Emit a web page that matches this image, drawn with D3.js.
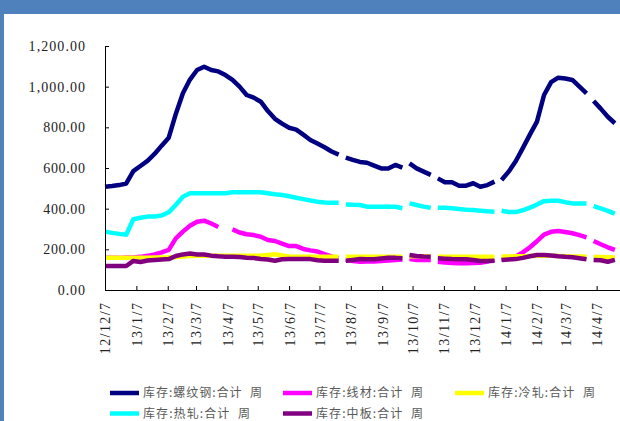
<!DOCTYPE html>
<html>
<head>
<meta charset="utf-8">
<script src="https://cdn.jsdelivr.net/npm/d3@7"></script>
<style>
  html, body { margin: 0; padding: 0; background: #fff; }
  svg { display: block; }
  .tick text { font-family: "Liberation Serif", serif; font-size: 14px; fill: #222; }
  .legend text { font-family: "Noto Sans CJK SC", sans-serif; font-size: 12px; fill: #595959; white-space: pre; }
</style>
</head>
<body>
<svg id="chart" width="620" height="421"></svg>
<script>
// weekly dates; the extra mid-week dates are empty rows in the source (shown as gaps)
const dates = [
  "2012-12-07","2012-12-14","2012-12-21","2012-12-28",
  "2013-01-04","2013-01-11","2013-01-18","2013-01-25",
  "2013-02-01","2013-02-08","2013-02-15","2013-02-22",
  "2013-03-01","2013-03-08","2013-03-15","2013-03-22","2013-03-29",
  "2013-04-05","2013-04-12","2013-04-19","2013-04-26",
  "2013-05-03","2013-05-10","2013-05-17","2013-05-24","2013-05-31",
  "2013-06-07","2013-06-14","2013-06-21","2013-06-28",
  "2013-07-05","2013-07-12","2013-07-19","2013-07-26","2013-07-29",
  "2013-08-02","2013-08-09","2013-08-16","2013-08-23","2013-08-30",
  "2013-09-06","2013-09-13","2013-09-20","2013-09-27","2013-09-30",
  "2013-10-04","2013-10-11","2013-10-18","2013-10-25","2013-10-29",
  "2013-11-01","2013-11-08","2013-11-15","2013-11-22","2013-11-29",
  "2013-12-06","2013-12-13","2013-12-20","2013-12-27","2013-12-31",
  "2014-01-03","2014-01-10","2014-01-17","2014-01-24","2014-01-31",
  "2014-02-07","2014-02-14","2014-02-21","2014-02-28",
  "2014-03-07","2014-03-14","2014-03-21","2014-03-28","2014-03-31",
  "2014-04-04","2014-04-11","2014-04-18","2014-04-25"
];

const rebar = [
  508,511,516,524,
  585,610,635,669,
  710,749,866,968,
  1035,1082,1098,1082,1075,
  1057,1033,1000,959,
  946,926,880,842,818,
  798,789,764,738,
  720,702,681,666,null,
  651,640,630,626,612,
  598,598,615,602,null,
  623,598,582,566,null,
  549,530,530,513,513,
  525,508,516,533,null,
  541,582,633,698,764,
  828,959,1022,1044,
  1040,1033,1000,967,null,
  930,892,852,820
];

const wireRod = [
  158,158,158,160,
  160,163,168,175,
  185,197,254,287,
  316,336,341,327,310,
  null,298,283,274,
  270,262,246,241,228,
  216,216,202,195,
  189,176,165,155,null,
  148,142,139,140,140,
  143,145,148,150,null,
  152,148,148,148,null,
  139,135,133,131,131,
  133,134,140,148,null,
  148,155,165,185,210,
  240,272,286,290,
  285,279,270,259,null,
  241,225,210,197
];

const coldRolled = [
  159,159,159,159,
  159,159,159,160,
  160,160,162,165,
  167,168,168,168,168,
  168,168,168,168,
  168,168,172,176,170,
  165,164,164,164,
  164,164,164,164,null,
  164,164,164,164,164,
  164,164,164,164,null,
  166,166,166,165,null,
  164,164,164,164,164,
  164,164,164,164,null,
  165,165,166,166,167,
  168,168,168,167,
  166,165,165,164,null,
  162,162,161,160
];

const hotRolled = [
  287,281,276,272,
  348,355,361,362,
  366,382,418,459,
  476,476,476,476,476,
  476,481,481,481,
  481,481,476,471,467,
  461,454,447,440,
  434,430,429,429,null,
  421,419,418,410,410,
  410,410,410,402,null,
  426,418,410,405,null,
  405,404,402,398,395,
  393,390,387,385,null,
  390,384,383,392,405,
  420,437,439,439,
  432,426,425,425,null,
  412,401,389,376
];

const plate = [
  118,118,118,118,
  143,138,145,148,
  150,152,167,175,
  180,175,175,169,166,
  164,164,162,159,
  157,153,150,144,151,
  152,152,152,152,
  146,144,144,144,null,
  144,148,152,151,151,
  155,159,158,156,null,
  172,167,165,164,null,
  156,154,152,151,151,
  147,143,143,144,null,
  148,150,152,158,166,
  172,172,170,166,
  163,161,156,151,null,
  148,146,139,148
];

const seriesNames = ["库存:螺纹钢:合计  周", "库存:线材:合计  周", "库存:冷轧:合计  周", "库存:热轧:合计  周", "库存:中板:合计  周"];
const seriesColors = ["#000080", "#FF00FF", "#FFFF00", "#00FFFF", "#800080"];
const seriesValues = [rebar, wireRod, coldRolled, hotRolled, plate];

const xTickDates = [
  "2012-12-07","2013-01-07","2013-02-07","2013-03-07","2013-04-07","2013-05-07",
  "2013-06-07","2013-07-07","2013-08-07","2013-09-07","2013-10-07","2013-11-07",
  "2013-12-07","2014-01-07","2014-02-07","2014-03-07","2014-04-07"
];
const yTicks = [0, 200, 400, 600, 800, 1000, 1200];

const parse = d3.timeParse("%Y-%m-%d");
const svg = d3.select("#chart");

// frame: blue header strip and left edge
svg.append("rect").attr("x", 0).attr("y", 0).attr("width", 620).attr("height", 14).attr("fill", "#4F81BD");
svg.append("rect").attr("x", 0).attr("y", 0).attr("width", 4).attr("height", 421).attr("fill", "#4F81BD");

const x = d3.scaleTime()
  .domain([parse("2012-12-07"), parse("2014-05-07")])
  .range([105, 627]);
const y = d3.scaleLinear().domain([0, 1200]).range([290, 46]);

// half-width / full-width advance, like the SimSun layout of the original
const advance = (s, half) => Array.from(s).reduce((w, c) => w + (c.charCodeAt(0) > 255 ? 2 * half : half), 0);

// series
const line = d3.line()
  .defined(d => d.v != null)
  .x(d => x(d.t))
  .y(d => y(d.v));

const gLines = svg.append("g");
seriesValues.forEach((vals, i) => {
  const pts = dates.map((s, j) => ({ t: parse(s), v: vals[j] }));
  gLines.append("path")
    .datum(pts)
    .attr("fill", "none")
    .attr("stroke", seriesColors[i])
    .attr("stroke-width", 4.5)
    .attr("stroke-linejoin", "round")
    .attr("stroke-linecap", "butt")
    .attr("d", line);
});

// axes
const yAxis = d3.axisLeft(y)
  .tickValues(yTicks)
  .tickFormat(d3.format(",.2f"))
  .tickSizeInner(-4).tickSizeOuter(0)
  .tickPadding(20);
svg.append("g").attr("transform", "translate(105,0)").call(yAxis)
  .call(g => g.selectAll(".tick text")
    .attr("textLength", function () { return advance(this.textContent, 7.3) - 2; })
    .attr("lengthAdjust", "spacing"));

const xAxis = d3.axisBottom(x)
  .tickValues(xTickDates.map(parse))
  .tickFormat(d3.timeFormat("%y/%-m/%-d"))
  .tickSizeInner(-4).tickSizeOuter(0);
svg.append("g").attr("transform", "translate(0,290)").call(xAxis)
  .call(g => g.selectAll(".tick text")
    .attr("transform", "rotate(-90)")
    .attr("text-anchor", "end")
    .attr("textLength", function () { return advance(this.textContent, 7.6) - 2; })
    .attr("lengthAdjust", "spacing")
    .attr("x", -13).attr("y", 0).attr("dy", "0.35em"));

svg.selectAll(".domain").attr("stroke", "#000");
svg.selectAll(".tick line").attr("stroke", "#000");

// legend
const legendPos = [[110, 393], [283, 393], [455, 393], [110, 413.5], [283, 413.5]];
const legend = svg.append("g").attr("class", "legend");
seriesNames.forEach((name, i) => {
  const [lx, ly] = legendPos[i];
  const it = legend.append("g").attr("transform", `translate(${lx},${ly})`);
  it.append("line").attr("x1", 0).attr("x2", 29).attr("y1", 0).attr("y2", 0)
    .attr("stroke", seriesColors[i]).attr("stroke-width", 4.5);
  it.append("text").attr("x", 33).attr("y", 0).attr("dy", "0.36em")
    .attr("textLength", advance(name, 6) - 1)
    .attr("lengthAdjust", "spacing")
    .text(name);
});
</script>
</body>
</html>
